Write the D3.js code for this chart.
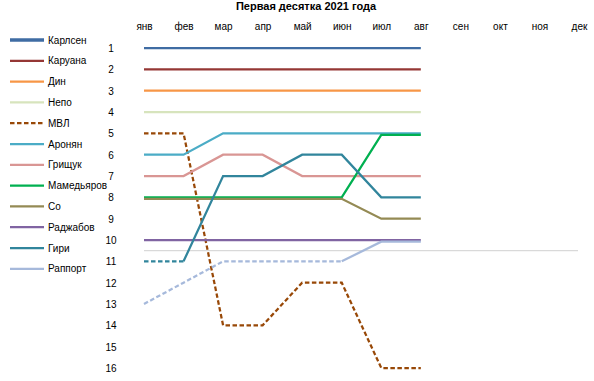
<!DOCTYPE html>
<html><head><meta charset="utf-8">
<script src="https://cdn.jsdelivr.net/npm/d3@7"></script>
<style>
html,body{margin:0;padding:0;background:#fff;}
text{font-family:"Liberation Sans",Arial,sans-serif;}
</style></head>
<body><svg id="c" width="594" height="381"></svg>
<script>
const months = ["янв","фев","мар","апр","май","июн","июл","авг","сен","окт","ноя","дек"];
const rankTicks = [1,2,3,4,5,6,7,8,9,10,11,12,13,14,15,16];
const players = ["Карлсен","Каруана","Дин","Непо","МВЛ","Аронян","Грищук","Мамедьяров","Со","Раджабов","Гири","Раппорт"];
const carlsen   = [1,1,1,1,1,1,1,1];
const caruana   = [2,2,2,2,2,2,2,2];
const ding      = [3,3,3,3,3,3,3,3];
const nepo      = [4,4,4,4,4,4,4,4];
const mvl       = [5,5,14,14,12,12,16,16];
const aronian   = [6,6,5,5,5,5,5,5];
const grischuk  = [7,7,6,6,7,7,7,7];
const mamedyarov= [8,8,8,8,8,8,5.07,5.07];
const so        = [8.07,8.07,8.07,8.07,8.07,8.07,9,9];
const radjabov  = [10,10,10,10,10,10,10,10];
const giri      = [11,11,7,7,6,6,8,8];
const rapport   = [13,12,11,11,11,11,10.08,10.08];
const seriesValues = [carlsen,caruana,ding,nepo,mvl,aronian,grischuk,mamedyarov,so,radjabov,giri,rapport];
const cutoff = 10.5;

const colors = ["#3F6CA3","#953735","#F79646","#D7E4BD","#984807","#4BACC6","#D99694","#00B050","#948A54","#8064A2","#31859C","#A6B9DB"];
// number of leading segments drawn dashed per series (Infinity = all)
const dashedSegs = [0,0,0,0,Infinity,0,0,0,0,0,1,5];

const svg = d3.select("#c");
const x = d3.scalePoint().domain(months).range([144,579]);
const y = d3.scaleLinear().domain([1,16]).range([48,368]);

svg.append("text").attr("x",306).attr("y",10).attr("text-anchor","middle")
  .attr("font-size",11).attr("font-weight","bold").text("Первая десятка 2021 года");

// month axis (top)
const xAxis = d3.axisTop(x).tickSize(0).tickPadding(0);
const gx = svg.append("g").attr("transform","translate(0,30)").call(xAxis);
gx.select(".domain").remove();
gx.selectAll("text").attr("font-size",10).attr("fill","#000").style("font-family","Liberation Sans, Arial, sans-serif");

// rank axis
const yAxis = d3.axisLeft(y).tickValues(rankTicks).tickSize(0).tickPadding(0).tickFormat(d3.format("d"));
const gy = svg.append("g").attr("transform","translate(111,0)").call(yAxis);
gy.select(".domain").remove();
gy.selectAll("text").attr("font-size",10).attr("fill","#000").attr("text-anchor","middle").attr("dy","0.35em").style("font-family","Liberation Sans, Arial, sans-serif");

// cutoff line
svg.append("line").attr("x1",144).attr("x2",578).attr("y1",y(cutoff)).attr("y2",y(cutoff))
  .attr("stroke","#d9d9d9").attr("stroke-width",1.2);

const line = d3.line().x(d=>x(months[d.i])).y(d=>y(d.v));
seriesValues.forEach((vals,si)=>{
  const pts = vals.map((v,i)=>({i,v}));
  const nd = dashedSegs[si];
  const g = svg.append("g");
  if (nd === Infinity) {
    g.append("path").attr("d",line(pts)).attr("fill","none").attr("stroke",colors[si])
      .attr("stroke-width",2.25).attr("stroke-dasharray","4.5,2.5");
  } else {
    if (nd>0) g.append("path").attr("d",line(pts.slice(0,nd+1))).attr("fill","none").attr("stroke",colors[si])
      .attr("stroke-width",2.25).attr("stroke-dasharray","4.5,2.5");
    g.append("path").attr("d",line(pts.slice(nd))).attr("fill","none").attr("stroke",colors[si])
      .attr("stroke-width",2.25);
  }
});

// legend
const leg = svg.append("g");
players.forEach((p,i)=>{
  const ly = 40 + i*20.8;
  leg.append("line").attr("x1",10).attr("x2",44).attr("y1",ly).attr("y2",ly)
    .attr("stroke",colors[i]).attr("stroke-width", i===0?3.5:2.25)
    .attr("stroke-dasharray", dashedSegs[i]===Infinity ? "4.5,2.5" : null);
  leg.append("text").attr("x",48).attr("y",ly).attr("dy","0.35em").attr("font-size",10).text(p);
});
</script></body></html>
